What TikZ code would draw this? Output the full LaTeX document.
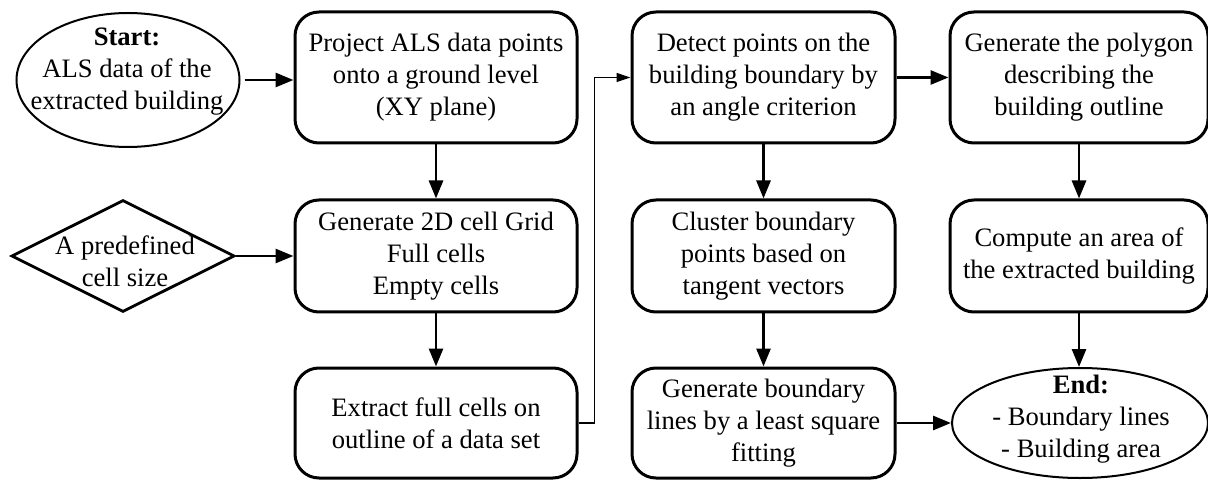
\documentclass[tikz,border=0pt]{standalone}
\usepackage{fontspec}
\setmainfont{Liberation Serif}
\usetikzlibrary{shapes.geometric,arrows.meta}
\begin{document}
\begin{tikzpicture}[x=0.5pt,y=-0.5pt,
  txt/.style={align=center, inner sep=0pt, font=\fontsize{13.3}{16}\selectfont},
  box/.style={txt, draw, line width=1.5pt, rounded corners=12pt},
  colA/.style={box, minimum width=141pt},
  colB/.style={box, minimum width=131.5pt},
  colC/.style={box, minimum width=129pt},
  tall/.style={minimum height=65.5pt},
  mid/.style={minimum height=56pt},
  low/.style={minimum height=55pt},
  oval/.style={draw, ellipse, line width=1pt, inner sep=0pt},
  dia/.style={draw, diamond, line width=1.4pt, inner sep=0pt},
  arr/.style={line width=1.4pt, -{Triangle[length=9pt,width=7pt]}},
  thinarr/.style={line width=0.6pt, -{Triangle[length=7pt,width=4.5pt]}}
]
\useasboundingbox (0,0) rectangle (1208,480);

% start / predefined
\node[oval, minimum width=111.5pt, minimum height=67pt] (start) at (128,80) {};
\node[txt] (starttxt) at (127,72) {\textbf{Start:}\\ALS data of the\\extracted building};
\node[dia, minimum width=111.5pt, minimum height=56pt] (pre) at (123,256) {};
\node[txt] (pretxt) at (125,261) {A predefined\\cell size};

% column A
\node[colA, tall] (project) at (436,77.5) {Project ALS data points\\onto a ground level\\(XY plane)};
\node[colA, mid] (grid) at (436,256) {Generate 2D cell Grid\\Full cells\\Empty cells};
\node[colA, low] (extract) at (436,423) {Extract full cells on\\outline of a data set};

% column B
\node[colB, tall] (detect) at (763.5,77.5) {Detect points on the\\building boundary by\\an angle criterion};
\node[colB, mid] (cluster) at (763.5,256) {Cluster boundary\\points based on\\tangent vectors};
\node[colB, low] (lines) at (763.5,423) {Generate boundary\\lines by a least square\\fitting};

% column C
\node[colC, tall] (polygon) at (1079,77.5) {Generate the polygon\\describing the\\building outline};
\node[colC, mid] (area) at (1079,256) {Compute an area of\\the extracted building};
\node[oval, minimum width=128pt, minimum height=55pt] (end) at (1080,423) {};
\node[txt] (endtxt) at (1081,419) {\textbf{End:}\\- Boundary lines\\- Building area};

% connectors
\draw[arr, shorten <=2pt] (start.east) -- (start.east -| project.west);
\draw[arr] (pre.east) -- (pre.east -| grid.west);
\draw[arr] (project) -- (grid);
\draw[arr] (grid) -- (extract);
\draw[thinarr] (extract.east) -- ++(16,0) |- (detect.west);
\draw[arr] (detect) -- (cluster);
\draw[arr] (cluster) -- (lines);
\draw[arr] (detect) -- (polygon);
\draw[arr] (polygon) -- (area);
\draw[arr] (area.south) -- (area.south |- end.north);
\draw[arr] (lines) -- (end);
\end{tikzpicture}
\end{document}
